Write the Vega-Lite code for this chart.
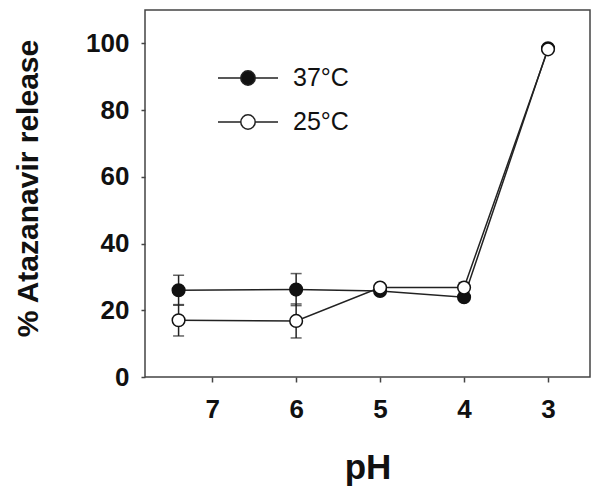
{
  "$schema": "https://vega.github.io/schema/vega-lite/v6.json",
  "width": 445,
  "height": 367,
  "autosize": {"type": "none"},
  "padding": {"left": 145, "top": 10, "right": 10, "bottom": 120},
  "background": "white",
  "config": {
    "view": {"stroke": "#444", "strokeWidth": 1.5},
    "font": "Liberation Sans",
    "axis": {"grid": false, "domain": false, "tickColor": "#444", "tickWidth": 1.5, "labelColor": "#111", "titleColor": "#111", "labelFont": "Liberation Sans", "titleFont": "Liberation Sans", "labelFontWeight": "bold", "titleFontWeight": "bold"}
  },
  "data": {
    "values": [
      {"pH": 7.4, "temp": "37°C", "value": 26.0, "lo": 21.5, "hi": 30.5},
      {"pH": 6, "temp": "37°C", "value": 26.2, "lo": 21.4, "hi": 31.0},
      {"pH": 5, "temp": "37°C", "value": 25.8, "lo": null, "hi": null},
      {"pH": 4, "temp": "37°C", "value": 23.9, "lo": null, "hi": null},
      {"pH": 3, "temp": "37°C", "value": 98.5, "lo": null, "hi": null},
      {"pH": 7.4, "temp": "25°C", "value": 17.0, "lo": 12.3, "hi": 21.7},
      {"pH": 6, "temp": "25°C", "value": 16.8, "lo": 11.7, "hi": 21.9},
      {"pH": 5, "temp": "25°C", "value": 26.8, "lo": null, "hi": null},
      {"pH": 4, "temp": "25°C", "value": 26.8, "lo": 25.3, "hi": 28.3},
      {"pH": 3, "temp": "25°C", "value": 98.2, "lo": null, "hi": null}
    ]
  },
  "encoding": {
    "x": {
      "field": "pH", "type": "quantitative",
      "scale": {"domain": [2.5, 7.8], "reverse": true, "nice": false, "zero": false},
      "axis": {"values": [7, 6, 5, 4, 3], "title": "pH", "labelFontSize": 26, "titleFontSize": 35, "tickSize": 5, "labelPadding": 14, "titlePadding": 28, "format": "d"}
    }
  },
  "layer": [
    {
      "transform": [{"filter": "datum.lo != null"}],
      "mark": {"type": "errorbar", "color": "#222", "thickness": 1.5, "ticks": {"size": 11, "color": "#222", "thickness": 1.5}},
      "encoding": {
        "y": {"field": "lo", "type": "quantitative", "title": "% Atazanavir release", "scale": {"domain": [0, 110], "nice": false},
          "axis": {"values": [0, 20, 40, 60, 80, 100], "labelFontSize": 26, "titleFontSize": 30, "tickSize": 4, "labelPadding": 12, "titlePadding": 42, "titleY": 178}},
        "y2": {"field": "hi"}
      }
    },
    {
      "mark": {"type": "line", "color": "#222", "strokeWidth": 1.5},
      "encoding": {
        "y": {"field": "value", "type": "quantitative", "title": "% Atazanavir release", "scale": {"domain": [0, 110], "nice": false}},
        "detail": {"field": "temp"}
      }
    },
    {
      "mark": {"type": "point", "filled": true, "size": 160, "stroke": "#111", "strokeWidth": 1.5, "opacity": 1},
      "encoding": {
        "y": {"field": "value", "type": "quantitative", "title": "% Atazanavir release", "scale": {"domain": [0, 110], "nice": false}},
        "fill": {
          "field": "temp", "type": "nominal",
          "scale": {"domain": ["37°C", "25°C"], "range": ["#111111", "#ffffff"]},
          "legend": {
            "orient": "none", "legendX": 72, "legendY": 37, "title": null,
            "symbolType": "M-1,0L-0.24,0M0.24,0L1,0M0.24,0A0.24,0.24,0,1,1,-0.24,0A0.24,0.24,0,1,1,0.24,0Z",
            "symbolSize": 3600, "symbolStrokeColor": "#222", "symbolStrokeWidth": 1.5, "symbolOpacity": 1,
            "labelFontSize": 25, "labelFont": "Liberation Sans", "labelColor": "#111", "labelOffset": 14, "rowPadding": -24.5, "padding": 0
          }
        }
      }
    }
  ]
}
